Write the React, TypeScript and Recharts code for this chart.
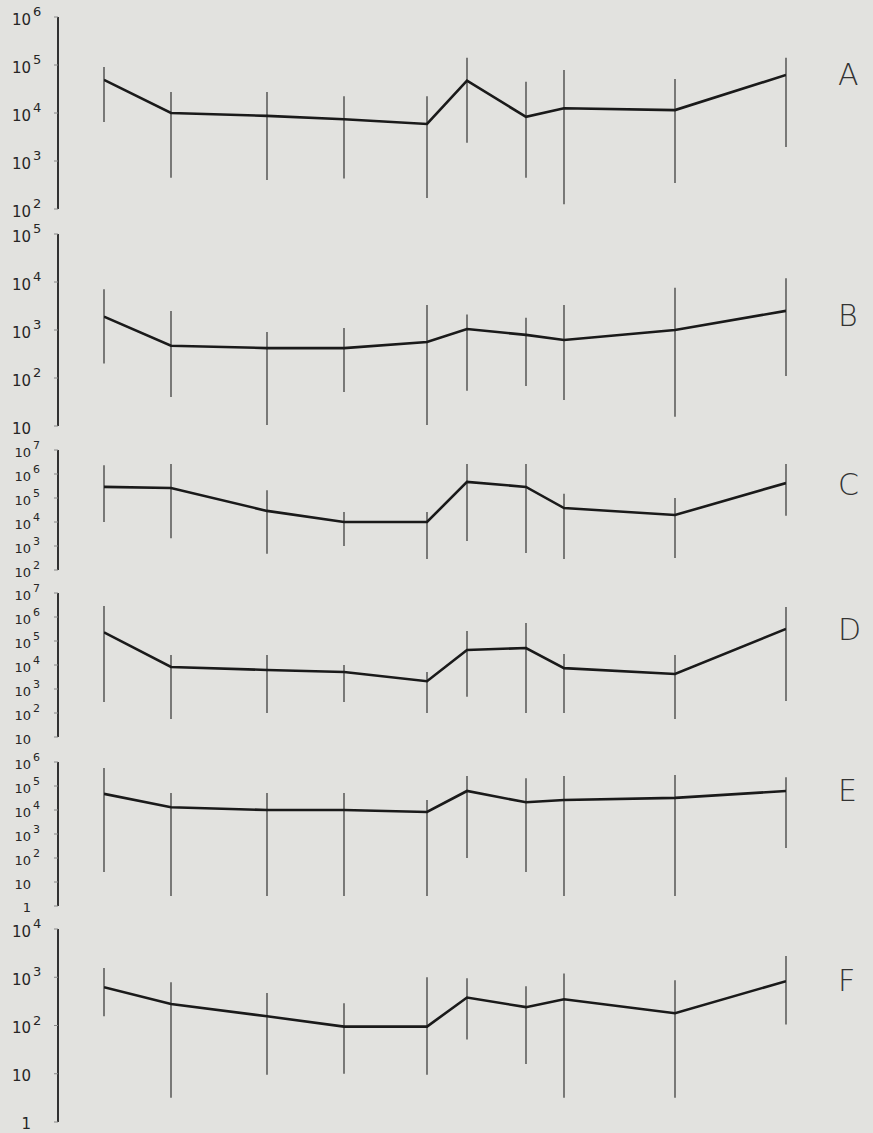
import { ComposedChart, Line, XAxis, YAxis, ErrorBar } from "recharts";

// sampling stations along the transect (distance units)
const stations = [0, 6.7, 16.3, 24.0, 32.3, 36.3, 42.2, 46.0, 57.1, 68.2];

// A
const meanA = [49000, 10000, 8700, 7400, 5900, 47000, 8300, 12600, 11500, 62000];
const lowA = [6500, 450, 400, 430, 170, 2400, 450, 125, 350, 1950];
const highA = [91000, 27500, 27500, 22400, 22400, 141000, 44700, 79000, 51000, 141000];

// B
const meanB = [1900, 470, 420, 420, 560, 1050, 790, 620, 1000, 2500];
const lowB = [200, 40, 10.5, 51, 10.5, 54, 68, 35, 15.5, 110];
const highB = [7100, 2500, 910, 1100, 3300, 2100, 1800, 3300, 7600, 12000];

// C
const meanC = [290000, 260000, 29000, 10000, 10000, 470000, 290000, 38000, 19500, 420000];
const lowC = [10000, 2100, 470, 1000, 290, 1600, 510, 290, 320, 18000];
const highC = [2300000, 2600000, 210000, 26000, 26000, 2600000, 2600000, 150000, 100000, 2600000];

// D
const meanD = [230000, 8300, 6200, 5100, 2100, 42000, 51000, 7400, 4200, 320000];
const lowD = [290, 56, 100, 290, 100, 470, 100, 100, 56, 320];
const highD = [2900000, 26000, 26000, 10000, 5100, 260000, 560000, 29000, 26000, 2600000];

// E
const meanE = [47000, 13000, 10000, 10000, 8300, 62000, 21000, 26000, 32000, 62000];
const lowE = [26, 2.6, 2.6, 2.6, 2.6, 100, 26, 2.6, 2.6, 260];
const highE = [560000, 51000, 51000, 51000, 26000, 260000, 210000, 260000, 290000, 230000];

// F
const meanF = [620, 280, 155, 95, 95, 380, 240, 350, 180, 830];
const lowF = [155, 3.2, 9.5, 10, 9.5, 51, 16, 3.2, 3.2, 105];
const highF = [1550, 790, 470, 290, 1000, 950, 650, 1200, 870, 2750];

const panels = [
  { letter: "A", mean: meanA, low: lowA, high: highA, lo: 2, hi: 6, top: 17, bottom: 209, fs: 15, letterY: 75 },
  { letter: "B", mean: meanB, low: lowB, high: highB, lo: 1, hi: 5, top: 234, bottom: 426, fs: 15, letterY: 316 },
  { letter: "C", mean: meanC, low: lowC, high: highC, lo: 2, hi: 7, top: 450, bottom: 570, fs: 13, letterY: 485 },
  { letter: "D", mean: meanD, low: lowD, high: highD, lo: 1, hi: 7, top: 593, bottom: 737, fs: 13, letterY: 630 },
  { letter: "E", mean: meanE, low: lowE, high: highE, lo: 0, hi: 6, top: 762, bottom: 906, fs: 13, letterY: 791 },
  { letter: "F", mean: meanF, low: lowF, high: highF, lo: 0, hi: 4, top: 929, bottom: 1122, fs: 15, letterY: 981 },
];

const ink = "#262626";
const font = "'DejaVu Sans', sans-serif";

function buildRows(mean: number[], low: number[], high: number[]) {
  return stations.map((s, i) => ({
    s,
    mean: mean[i],
    err: [mean[i] - low[i], high[i] - mean[i]],
  }));
}

function LogTick(props: any) {
  const { y, payload, fs } = props;
  const e = Math.round(Math.log10(payload.value));
  if (e === 0) {
    return (
      <text x={31} y={y + fs * 0.45} textAnchor="end" fontSize={fs} fill={ink} fontFamily={font}>1</text>
    );
  }
  return (
    <g>
      <text x={31} y={y + fs * 0.5} textAnchor="end" fontSize={fs} fill={ink} fontFamily={font}>10</text>
      {e > 1 && (
        <text x={33} y={y - 1} textAnchor="start" fontSize={fs - 2} fill={ink} fontFamily={font}>{e}</text>
      )}
    </g>
  );
}

function Panel({ p }: { p: (typeof panels)[number] }) {
  const rows = buildRows(p.mean, p.low, p.high);
  const ticks = Array.from({ length: p.hi - p.lo + 1 }, (_, i) => Math.pow(10, p.lo + i));
  const mt = 14;
  const mb = 14;
  const h = p.bottom - p.top + mt + mb;
  return (
    <div style={{ position: "absolute", left: 0, top: p.top - mt, width: 873, height: h }}>
      <ComposedChart width={873} height={h} data={rows} margin={{ top: mt, right: 43, bottom: mb, left: 8 }}>
        <XAxis
          type="number"
          dataKey="s"
          domain={[stations[0], stations[stations.length - 1]]}
          allowDataOverflow
          padding={{ left: 46, right: 44 }}
          hide
        />
        <YAxis
          scale="log"
          domain={[Math.pow(10, p.lo), Math.pow(10, p.hi)]}
          ticks={ticks}
          interval={0}
          allowDataOverflow
          width={50}
          axisLine={{ stroke: "#1e1e1e", strokeWidth: 1.8 }}
          tickLine={{ stroke: "#888" }}
          tickSize={4}
          tick={(tp: any) => <LogTick {...tp} fs={p.fs} />}
        />
        <Line
          type="linear"
          dataKey="mean"
          stroke="#1a1a1a"
          strokeWidth={2.6}
          dot={false}
          isAnimationActive={false}
        >
          <ErrorBar dataKey="err" direction="y" width={0} stroke="#222" strokeWidth={1.1} isAnimationActive={false} />
        </Line>
      </ComposedChart>
      <div
        style={{
          position: "absolute",
          left: 838,
          top: p.letterY - (p.top - mt) - 18,
          fontFamily: font,
          fontWeight: 200,
          fontSize: 30,
          lineHeight: "36px",
          color: "#333",
        }}
      >
        {p.letter}
      </div>
    </div>
  );
}

export default function App() {
  return (
    <div
      style={{
        position: "absolute",
        left: 0,
        top: 0,
        width: 873,
        height: 1133,
        background: "#e2e2df",
        overflow: "hidden",
      }}
    >
      {panels.map((p) => (
        <Panel key={p.letter} p={p} />
      ))}
    </div>
  );
}
